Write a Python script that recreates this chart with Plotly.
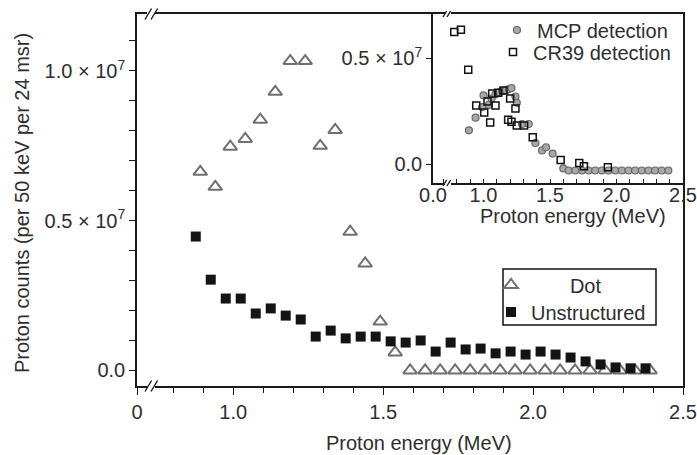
import plotly.graph_objects as go

# ---------------- data (energies in MeV, counts in units of 1e7) ----------------
dot_energy = [0.89, 0.94, 0.99, 1.04, 1.09, 1.14, 1.19, 1.24, 1.29, 1.34, 1.39, 1.44, 1.49, 1.54,
              1.59, 1.64, 1.69, 1.74, 1.79, 1.84, 1.89, 1.94, 1.99, 2.04, 2.09, 2.14, 2.19,
              2.24, 2.29, 2.34, 2.39]
dot_counts = [0.663, 0.613, 0.747, 0.773, 0.837, 0.930, 1.033, 1.033, 0.750, 0.803, 0.463, 0.357,
              0.163, 0.060, 0.0, 0.0, 0.0, 0.0, 0.0, 0.0, 0.0, 0.0, 0.0, 0.0, 0.0, 0.0, 0.0,
              0.0, 0.0, 0.0, 0.0]

uns_energy = [0.875, 0.925, 0.975, 1.025, 1.075, 1.125, 1.175, 1.225, 1.275, 1.325, 1.375, 1.425,
              1.475, 1.525, 1.575, 1.625, 1.675, 1.725, 1.775, 1.825, 1.875, 1.925, 1.975, 2.025,
              2.075, 2.125, 2.175, 2.225, 2.275, 2.325, 2.375]
uns_counts = [0.447, 0.303, 0.240, 0.240, 0.190, 0.207, 0.183, 0.170, 0.113, 0.133, 0.107, 0.113,
              0.113, 0.097, 0.093, 0.100, 0.063, 0.093, 0.070, 0.073, 0.057, 0.063, 0.053, 0.063,
              0.053, 0.043, 0.030, 0.020, 0.010, 0.007, 0.007]

# inset
mcp_energy = [0.89, 0.94, 0.99, 1.00, 1.04, 1.06, 1.09, 1.12, 1.14, 1.17, 1.19, 1.21, 1.24, 1.25,
              1.29, 1.34, 1.39, 1.44, 1.47, 1.52, 1.60, 1.64, 1.69, 1.74, 1.79, 1.84, 1.89, 1.94,
              1.99, 2.04, 2.09, 2.14, 2.19, 2.24, 2.29, 2.34, 2.39]
mcp_counts = [0.16, 0.22, 0.27, 0.325, 0.28, 0.31, 0.33, 0.34, 0.345, 0.35, 0.355, 0.36, 0.32, 0.29,
              0.19, 0.19, 0.10, 0.065, 0.08, 0.05, -0.02, -0.03, -0.03, -0.03, -0.03, -0.03, -0.03,
              -0.03, -0.03, -0.03, -0.03, -0.03, -0.03, -0.03, -0.03, -0.03, -0.03]

cr39_energy = [0.78, 0.83, 0.885, 0.945, 1.005, 1.03, 1.05, 1.065, 1.09, 1.11, 1.15, 1.185, 1.20,
               1.21, 1.24, 1.25, 1.305, 1.37, 1.58, 1.72, 1.755, 1.935]
cr39_counts = [0.625, 0.635, 0.447, 0.277, 0.244, 0.296, 0.197, 0.334, 0.277, 0.338, 0.348, 0.21,
               0.31, 0.20, 0.263, 0.183, 0.183, 0.127, 0.02, 0.005, -0.01, -0.014]

main_xticks = [0.679, 1.0, 1.5, 2.0, 2.5]
main_xticktext = ["0", "1.0", "1.5", "2.0", "2.5"]
main_yticks = [0.0, 0.5, 1.0]
main_yticktext = ["0.0", "0.5 × 10<sup>7</sup>", "1.0 × 10<sup>7</sup>"]
inset_xticks = [0.62, 1.0, 1.5, 2.0, 2.5]
inset_xticktext = ["0.0", "1.0", "1.5", "2.0", "2.5"]
inset_yticks = [0.0, 0.5]
inset_yticktext = ["0.0", "0.5 × 10<sup>7</sup>"]
x_title = "Proton energy (MeV)"
y_title = "Proton counts (per 50 keV per 24 msr)"

# ---------------- layout geometry ----------------
W, H = 697, 455
L, R, T, B = 137, 14, 14, 69
PW, PH = W - L - R, H - T - B
FONT = "Arial, Liberation Sans, sans-serif"
FS = 20
TXT = "#2e2e2e"
LINE = "#1a1a1a"
GRAY = "#707070"


def px(xp):
    return (xp - L) / PW


def py(yp):
    return 1 - (yp - T) / PH


MX = [0.679, 2.5]
MY = [-0.052, 1.19]
IX = [0.62, 2.5]
IY = [-0.089, 0.71]

fig = go.Figure()

fig.add_trace(go.Scatter(
    x=dot_energy, y=dot_counts, mode="markers", name="\u00a0" * 7 + "Dot", showlegend=True,
    marker=dict(symbol="triangle-up-open", size=12, color=GRAY, line=dict(width=2, color=GRAY)),
    legend="legend3"))
fig.add_trace(go.Scatter(
    x=uns_energy, y=uns_counts, mode="markers", name="Unstructured", showlegend=True,
    marker=dict(symbol="square", size=10, color="#141414", line=dict(width=0)),
    legend="legend4"))

fig.add_trace(go.Scatter(
    x=mcp_energy, y=mcp_counts, mode="markers", name="MCP detection", xaxis="x2", yaxis="y2",
    showlegend=True,
    marker=dict(symbol="circle", size=7, color="#a8a8a8", line=dict(width=1.2, color="#6a6a6a")),
    legend="legend"))
fig.add_trace(go.Scatter(
    x=cr39_energy, y=cr39_counts, mode="markers", name="CR39 detection", xaxis="x2", yaxis="y2",
    showlegend=True,
    marker=dict(symbol="square-open", size=7, color="#111111", line=dict(width=1.5, color="#111111")),
    legend="legend2"))

axis_common = dict(showgrid=False, zeroline=False, linecolor=LINE, linewidth=1.5,
                   tickcolor=LINE, tickwidth=1.3, tickfont=dict(family=FONT, size=FS, color=TXT),
                   automargin=False)

main_minor_x = [0.8, 0.9, 1.1, 1.2, 1.3, 1.4, 1.6, 1.7, 1.8, 1.9, 2.1, 2.2, 2.3, 2.4]
main_minor_y = [0.1, 0.2, 0.3, 0.4, 0.6, 0.7, 0.8, 0.9, 1.1]
main_top_ticks = [0.8, 0.9, 1.0, 1.1, 1.2, 1.3, 1.4, 1.5, 1.6]
main_right_ticks = [0.0, 0.1, 0.2, 0.3, 0.4, 0.5, 0.6, 0.7, 0.8, 0.9, 1.0, 1.1]
inset_minor_x = [0.7, 0.8, 0.9, 1.1, 1.2, 1.3, 1.4, 1.6, 1.7, 1.8, 1.9, 2.1, 2.2, 2.3, 2.4]
inset_top_ticks = [0.7, 0.8, 0.9, 1.0, 1.1, 1.2, 1.3, 1.4, 1.5, 1.6, 1.7, 1.8, 1.9, 2.0, 2.1,
                   2.2, 2.3, 2.4]


def leg(x_text, y_center):
    return dict(x=px(x_text - 40), y=py(y_center), xanchor="left", yanchor="middle",
                bgcolor="rgba(0,0,0,0)", borderwidth=0, visible=True,
                font=dict(family=FONT, size=FS, color=TXT), tracegroupgap=0)


fig.update_layout(
    width=W, height=H, margin=dict(l=L, r=R, t=T, b=B, autoexpand=False),
    paper_bgcolor="white", plot_bgcolor="white", showlegend=True,
    font=dict(family=FONT, size=FS, color=TXT),
    xaxis=dict(axis_common, domain=[0, 1], anchor="y", range=MX, mirror=True,
               tickmode="array", tickvals=main_xticks, ticktext=main_xticktext,
               ticks="outside", ticklen=7,
               minor=dict(tickmode="array", tickvals=main_minor_x, ticks="outside", ticklen=5,
                          tickcolor=LINE, tickwidth=1.3)),
    yaxis=dict(axis_common, domain=[0, 1], anchor="x", range=MY, mirror=True,
               tickmode="array", tickvals=main_yticks, ticktext=main_yticktext,
               ticks="outside", ticklen=6,
               minor=dict(tickmode="array", tickvals=main_minor_y, ticks="outside", ticklen=6,
                          tickcolor=LINE, tickwidth=1.3)),
    xaxis3=dict(overlaying="x", anchor="y", side="top", range=MX, showgrid=False, zeroline=False,
                showline=False, tickmode="array", tickvals=main_top_ticks, ticks="inside",
                ticklen=5, tickcolor=LINE, tickwidth=1.3, showticklabels=False),
    yaxis3=dict(overlaying="y", anchor="x", side="right", range=MY, showgrid=False, zeroline=False,
                showline=False, tickmode="array", tickvals=main_right_ticks, ticks="inside",
                ticklen=5, tickcolor=LINE, tickwidth=1.3, showticklabels=False),
    xaxis2=dict(axis_common, domain=[px(433), 1], anchor="y2", range=IX, mirror=True,
                tickmode="array", tickvals=inset_xticks, ticktext=inset_xticktext,
                ticks="inside", ticklen=4, ticklabelstandoff=-7,
                minor=dict(tickmode="array", tickvals=inset_minor_x, ticks="inside", ticklen=4,
                           tickcolor=LINE, tickwidth=1.2)),
    yaxis2=dict(axis_common, domain=[py(183), 1], anchor="x2", range=IY, mirror=True,
                tickmode="array", tickvals=inset_yticks, ticktext=inset_yticktext,
                ticks="outside", ticklen=5),
    xaxis4=dict(overlaying="x2", anchor="y2", side="top", range=IX, showgrid=False, zeroline=False,
                showline=False, tickmode="array", tickvals=inset_top_ticks, ticks="inside",
                ticklen=4, tickcolor=LINE, tickwidth=1.2, showticklabels=False),
    legend=leg(537, 30),
    legend2=leg(533, 52),
    legend3=leg(531, 285),
    legend4=leg(531, 312),
    annotations=[
        dict(text=x_title, xref="paper", yref="paper", x=px(419), y=py(443),
             xanchor="center", yanchor="middle", showarrow=False,
             font=dict(family=FONT, size=FS, color=TXT)),
        dict(text=x_title, xref="paper", yref="paper", x=px(573), y=py(216),
             xanchor="center", yanchor="middle", showarrow=False,
             font=dict(family=FONT, size=FS, color=TXT)),
        dict(text=y_title, xref="paper", yref="paper", x=px(22), y=py(203),
             xanchor="center", yanchor="middle", showarrow=False, textangle=-90,
             font=dict(family=FONT, size=FS, color=TXT)),
    ],
)

# decorations: legend frame and axis-break marks
shapes = [dict(type="rect", xref="paper", yref="paper", x0=px(503), x1=px(656),
               y0=py(325), y1=py(269), line=dict(color="#111111", width=1.5),
               fillcolor="rgba(0,0,0,0)", layer="above")]


def brk(x0, yc, h, gap):
    xr, yr = "paper", "paper"
    shapes.append(dict(type="rect", xref=xr, yref=yr, x0=px(x0 + 2), x1=px(x0 + gap + 4),
                       y0=py(yc + 2.5), y1=py(yc - 2.5), fillcolor="white", line=dict(width=0)))
    for dx in (0, gap):
        shapes.append(dict(type="line", xref=xr, yref=yr, x0=px(x0 + dx), y0=py(yc + h / 2),
                           x1=px(x0 + dx + h * 0.6), y1=py(yc - h / 2),
                           line=dict(color=LINE, width=1.4)))


brk(145, 386, 11, 6)
brk(145, 14, 11, 6)
brk(443, 14, 6, 4)
brk(443, 183, 6, 4)
fig.update_layout(shapes=shapes)

fig.write_html("out.html")
